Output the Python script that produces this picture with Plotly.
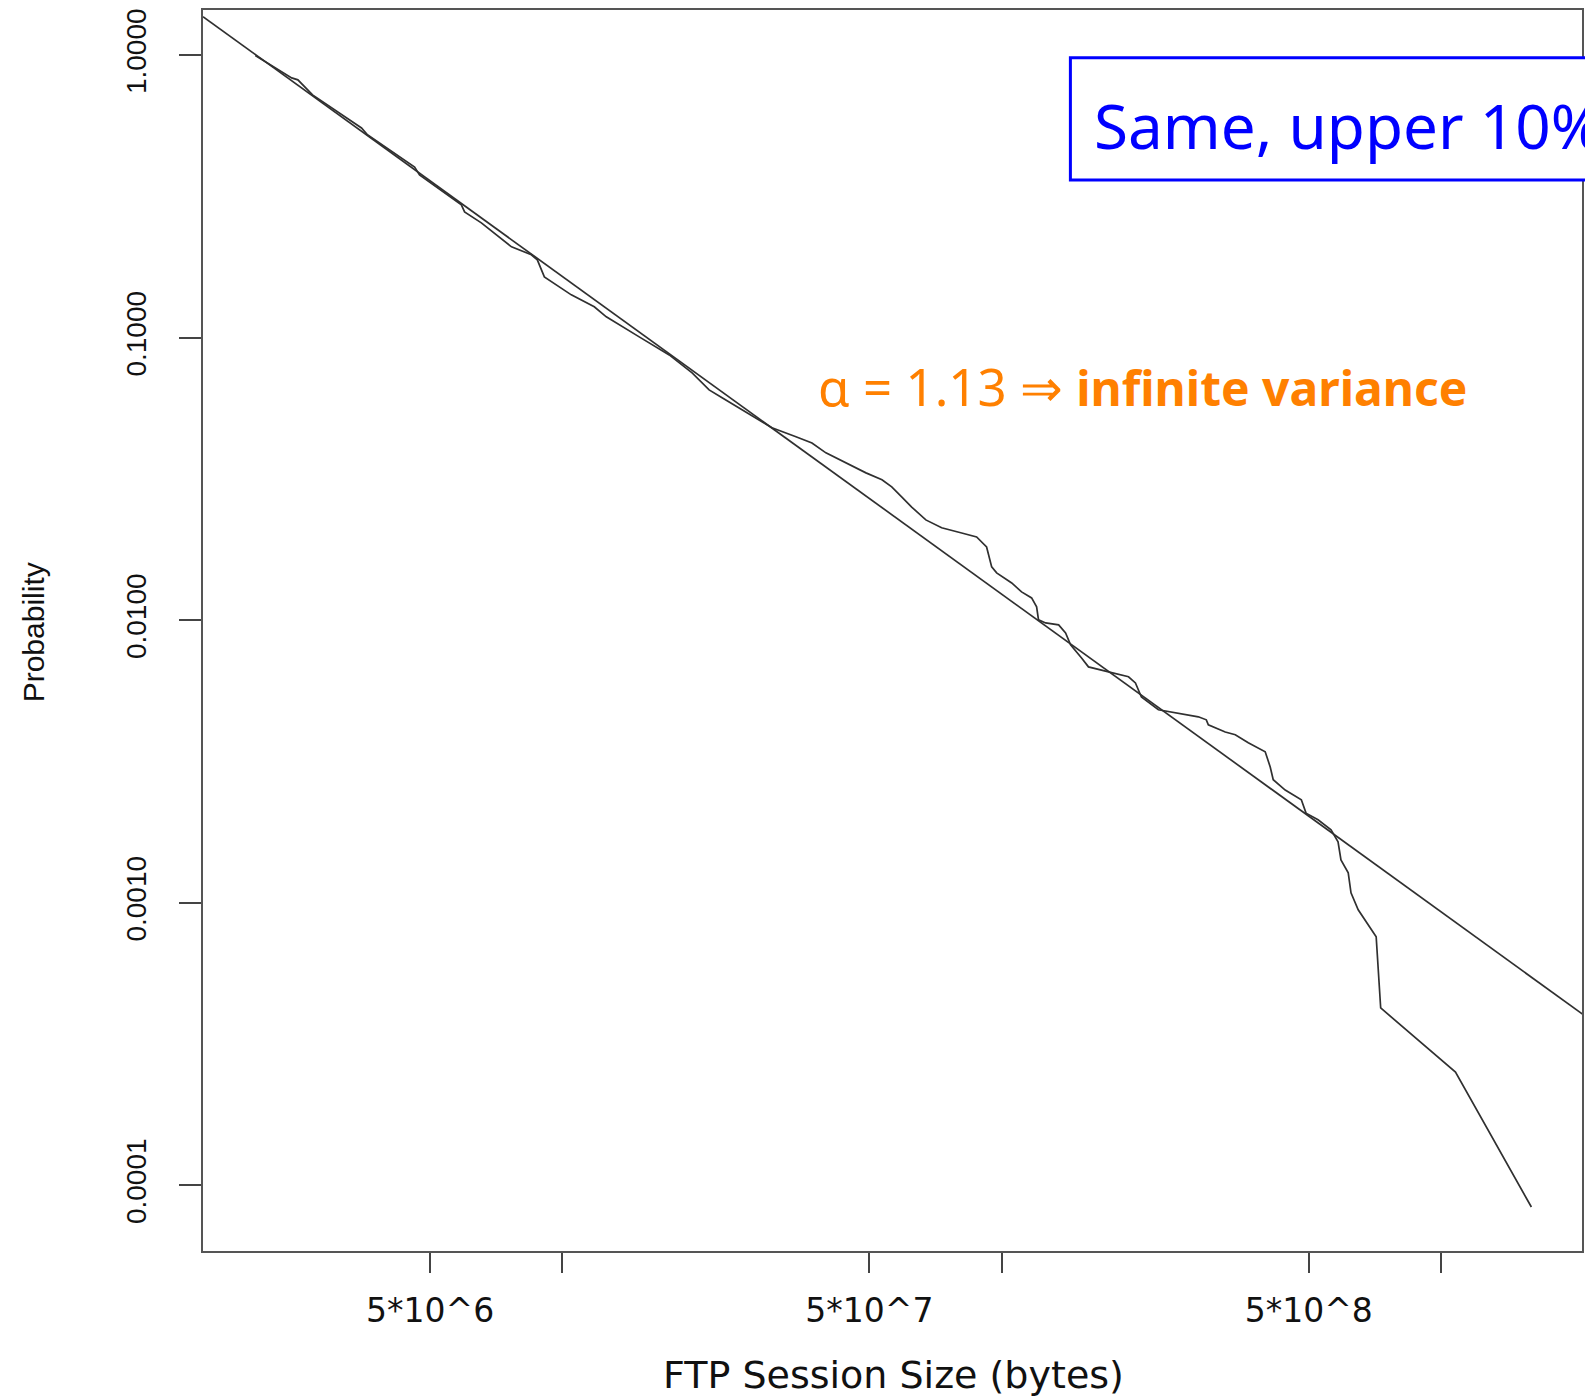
import plotly.graph_objects as go

# ---- data ----
session_bytes = [
    2.00e6, 2.42e6, 2.50e6, 2.59e6, 2.70e6, 3.49e6, 3.60e6, 4.61e6, 4.73e6, 5.89e6,
    5.99e6, 6.54e6, 7.66e6, 8.50e6, 8.77e6, 9.10e6, 1.048e7, 1.182e7, 1.259e7, 1.496e7,
    1.635e7, 1.751e7, 1.974e7, 2.048e7, 2.158e7, 2.310e7, 2.565e7, 2.803e7, 3.000e7, 3.402e7,
    3.700e7, 3.980e7, 4.42e7, 4.91e7, 5.34e7, 5.62e7, 5.92e7, 6.24e7, 6.72e7, 7.30e7,
    8.11e7, 8.77e7, 9.24e7, 9.49e7, 9.74e7, 1.054e8, 1.110e8, 1.170e8, 1.201e8, 1.213e8,
    1.259e8, 1.348e8, 1.398e8, 1.435e8, 1.520e8, 1.576e8, 1.751e8, 1.944e8, 2.016e8, 2.080e8,
    2.274e8, 2.486e8, 2.803e8, 2.923e8, 2.954e8, 3.228e8, 3.402e8, 3.642e8, 3.98e8, 4.086e8,
    4.151e8, 4.42e8, 4.81e8, 4.93e8, 5.25e8, 5.62e8, 5.83e8, 5.92e8, 6.15e8, 6.24e8,
    6.48e8, 7.12e8, 7.29e8, 1.079e9, 1.606e9,
]
probability = [
    1.000, 0.833, 0.820, 0.774, 0.725, 0.554, 0.524, 0.403, 0.378, 0.296,
    0.2795, 0.2556, 0.2102, 0.197, 0.189, 0.1645, 0.1421, 0.1289, 0.1188, 0.1009,
    0.0930, 0.0871, 0.0752, 0.0711, 0.0655, 0.0614, 0.0556, 0.0513, 0.0481, 0.0447,
    0.0425, 0.0392, 0.0361, 0.0333, 0.0315, 0.0297, 0.0274, 0.0252, 0.0227, 0.02128,
    0.0204, 0.01976, 0.0182, 0.01548, 0.01474, 0.01358, 0.01262, 0.01202, 0.01117, 0.01005,
    0.0098, 0.00965, 0.00904, 0.0082, 0.00737, 0.00685, 0.00658, 0.00632, 0.00601, 0.00536,
    0.00483, 0.00471, 0.00456, 0.00445, 0.00427, 0.00403, 0.00394, 0.00369, 0.00343, 0.00303,
    0.00273, 0.00251, 0.00232, 0.00208, 0.00197, 0.001815, 0.001646, 0.001421, 0.001278, 0.001086,
    0.000946, 0.000759, 0.000425, 0.000252, 0.0000839,
]
fit_x = [1.52e6, 2.1e9]
fit_y = [1.373, 4.04e-4]

x_tickvals = [5e6, 1e7, 5e7, 1e8, 5e8, 1e9]
x_ticktext = ["5*10^6", "", "5*10^7", "", "5*10^8", ""]
y_tickvals = [1e-4, 1e-3, 1e-2, 1e-1, 1]
y_ticktext = ["0.0001", "0.0010", "0.0100", "0.1000", "1.0000"]

LINE = "#303030"
HELV = "Liberation Sans, Arial, sans-serif"
fig = go.Figure()
fig.add_trace(go.Scatter(x=fit_x, y=fit_y, mode="lines",
                         line=dict(color=LINE, width=1.7), showlegend=False))
fig.add_trace(go.Scatter(x=session_bytes, y=probability, mode="lines",
                         line=dict(color=LINE, width=1.7), showlegend=False))

fig.update_layout(
    width=1585, height=1397,
    margin=dict(l=203, r=1, t=10, b=146),
    paper_bgcolor="white", plot_bgcolor="white",
    showlegend=False,
)
fig.update_xaxes(
    type="log", range=[6.182, 9.321],
    tickvals=x_tickvals, ticktext=x_ticktext,
    ticks="outside", ticklen=20, tickwidth=1.5, tickcolor="#444",
    showline=True, linecolor="#555", linewidth=1.5, mirror=True,
    showgrid=False, zeroline=False,
    tickfont=dict(family="DejaVu Sans", size=33, color="#111"),
    ticklabelstandoff=10,
)
fig.update_yaxes(
    type="log", range=[-4.232, 0.161],
    tickvals=y_tickvals, ticktext=y_ticktext, tickangle=-90,
    ticks="outside", ticklen=22, tickwidth=1.5, tickcolor="#444",
    showline=True, linecolor="#555", linewidth=1.5, mirror=True,
    showgrid=False, zeroline=False,
    tickfont=dict(family=HELV, size=28, color="#111"),
    ticklabelstandoff=22,
)

fig.add_annotation(text="FTP Session Size (bytes)", xref="paper", yref="paper",
                   x=0.5007, y=-0.0999, xanchor="center", yanchor="middle", showarrow=False,
                   font=dict(family="DejaVu Sans", size=38, color="#111"))
fig.add_annotation(text="Probability", xref="paper", yref="paper", textangle=-90,
                   x=-0.1223, y=0.4988, xanchor="center", yanchor="middle", showarrow=False,
                   font=dict(family=HELV, size=30, color="#111"))

# blue box
fig.add_shape(type="rect", xref="paper", yref="paper", x0=0.629, x1=1.1, y0=0.863, y1=0.9616,
              line=dict(color="#0000FF", width=3), fillcolor="white", layer="above")
fig.add_annotation(text="Same, upper 10%", xref="paper", yref="paper",
                   x=0.6447, y=0.907, xanchor="left", yanchor="middle", showarrow=False,
                   font=dict(family="Noto Sans", size=62, color="#0000FF"))
fig.add_annotation(text='<span style="font-size:51px">α = 1.13 ⇒ </span><b>infinite variance</b>',
                   xref="paper", yref="paper",
                   x=0.4443, y=0.697, xanchor="left", yanchor="middle", showarrow=False,
                   font=dict(family="Noto Sans", size=48, color="#FF8000"))

fig.write_html("out.html")
